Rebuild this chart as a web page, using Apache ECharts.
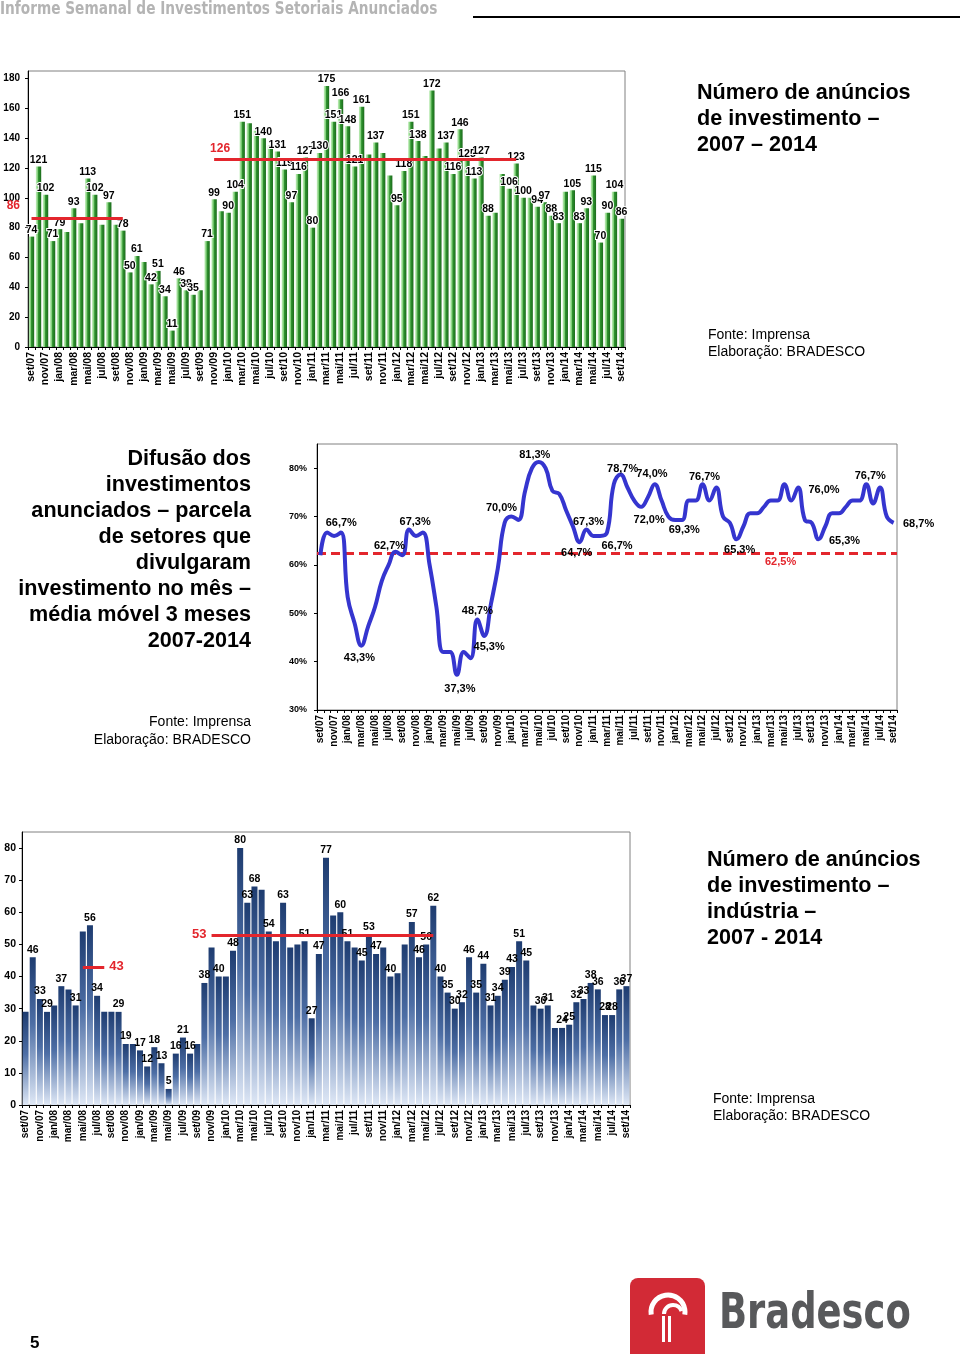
<!DOCTYPE html>
<html><head><meta charset="utf-8">
<script src="https://cdn.jsdelivr.net/npm/echarts@6/dist/echarts.min.js"></script>
<style>html,body{margin:0;padding:0;background:#fff}#c{width:960px;height:1354px}</style>
</head><body><div id="c"></div>
<script>
// ---------- categories ----------
const monthNames = ['jan','fev','mar','abr','mai','jun','jul','ago','set','out','nov','dez'];
const categories = [];
for (let y = 2007, m = 8; y < 2014 || (y === 2014 && m <= 8);) {
  categories.push(monthNames[m] + '/' + String(y).slice(2));
  m++; if (m === 12) { m = 0; y++; }
}

// ---------- chart 1: número de anúncios de investimento ----------
const totalAnnouncements = [74,121,102,71,79,77,93,83,113,102,82,97,82,78,50,61,57,42,51,34,11,46,38,35,38,71,99,91,90,104,151,150,145,140,135,131,119,97,116,127,80,130,175,151,166,148,121,161,129,137,130,115,95,118,151,138,128,172,133,137,116,146,125,113,127,88,90,116,106,123,100,100,94,97,88,83,104,105,83,93,115,70,90,104,86];
const totalUnlabeled = [5,7,10,12,16,24,27,31,32,34,48,50,51,56,58,66,67,71,76];
const totalAverages = [86, 126];
const totalAverageSpans = [['set/07','out/08'], ['nov/09','jun/13']];
const totalTicks = [0,20,40,60,80,100,120,140,160,180];

// ---------- chart 2: difusão (média móvel 3 meses, %) ----------
const diffusion = [62.0,66.7,66.0,66.7,53.3,48.0,43.3,47.3,51.3,56.7,60.0,62.7,62.0,67.3,66.0,66.7,60.0,51.3,42.0,42.0,37.3,42.0,40.7,48.7,45.3,52.0,59.3,68.7,70.0,69.3,75.3,80.0,81.3,80.0,75.3,74.7,71.3,68.0,64.7,67.3,66.0,66.0,66.7,76.7,78.7,76.0,73.3,72.0,74.0,76.7,73.3,70.0,69.3,69.3,73.3,73.3,76.7,73.3,76.0,70.0,68.7,65.3,68.0,70.7,70.7,72.0,73.3,73.3,76.7,73.3,76.0,69.3,68.7,65.3,68.0,70.7,70.7,72.0,73.3,73.3,76.7,72.7,76.0,70.0,68.7];
const diffusionLabeled = [1,6,11,13,20,23,24,28,32,38,39,42,44,47,48,52,56,61,70,73,80,84];
const diffusionAverage = 62.5;
const diffusionTicks = [30,40,50,60,70,80];

// ---------- chart 3: indústria ----------
const industry = [29,46,33,29,31,37,36,31,54,56,34,29,29,29,19,19,17,12,18,13,5,16,21,16,19,38,49,40,40,48,80,63,68,67,54,51,63,49,50,51,27,47,77,59,60,51,49,45,53,47,49,40,41,50,57,46,50,62,40,35,30,32,46,35,44,31,34,39,43,51,45,31,30,31,24,24,25,32,33,38,36,28,28,36,37];
const industryUnlabeled = [0,4,6,8,11,12,15,24,26,28,33,35,37,38,43,46,50,52,53,71,74];
const industryAverages = [43, 53];
const industryAverageSpans = [['mai/08','ago/08'], ['nov/09','jun/12']];
const industryTicks = [0,10,20,30,40,50,60,70,80];

// ---------- styles ----------
const FF = '"Liberation Sans", Arial, sans-serif';
const NARROW = '"Liberation Sans Narrow", "DejaVu Sans Condensed", sans-serif';
const RED = '#e3262d';
const fmtPct = v => v.toFixed(1).replace('.', ',') + '%';

// label offsets for the line chart (style only)
const lineLabelOffsets = {1:[14,-10],6:[-2,12],11:[-6,-6],13:[6,-8],20:[3,14],23:[0,-9],24:[5,11],28:[-10,-9],32:[-4,-7],38:[-3,11],39:[2,-8],42:[10,13],44:[2,-6],47:[8,13],48:[4,-23],52:[9,10],56:[2,-7],61:[3,11],70:[26,2],73:[26,2],80:[4,-8],84:[25,1]};

const grids = [
  {left: 28, top: 71, width: 597, height: 276},
  {left: 317, top: 444, width: 580, height: 266},
  {left: 22, top: 832, width: 608, height: 273}
].map(g => Object.assign(g, {show: true, borderColor: '#808080', borderWidth: 1, backgroundColor: 'transparent', containLabel: false}));

function xAxisFor(i, fs) {
  return {
    type: 'category', gridIndex: i, data: categories, boundaryGap: true,
    axisLine: {lineStyle: {color: '#000', width: 1}},
    axisTick: {show: true, interval: 0, length: 3, lineStyle: {color: '#000'}},
    axisLabel: {rotate: 90, interval: 1, fontWeight: 'bold', fontSize: fs, fontFamily: FF, color: '#000', margin: 5}
  };
}
function yAxisFor(i, ticks, maxV, fs, margin, fmt) {
  return {
    type: 'value', gridIndex: i, min: ticks[0], max: maxV, interval: ticks[1] - ticks[0],
    splitLine: {show: false},
    axisLine: {show: true, lineStyle: {color: '#000'}},
    axisTick: {show: true, length: 3, lineStyle: {color: '#000'}},
    axisLabel: {showMaxLabel: false, fontWeight: 'bold', fontSize: fs, fontFamily: FF, color: '#000', margin: margin, formatter: fmt}
  };
}

const greenGrad = new echarts.graphic.LinearGradient(0, 0, 1, 0, [
  {offset: 0, color: '#c6f0c0'}, {offset: 0.35, color: '#7ccc74'},
  {offset: 0.5, color: '#2e922e'}, {offset: 1, color: '#1c6b1c'}]);
const blueGrad = new echarts.graphic.LinearGradient(0, 0, 0, 1, [
  {offset: 0, color: '#1e3c70'}, {offset: 0.45, color: '#4d6ea5'},
  {offset: 1, color: '#dfe8f6'}]);

const redLabel = (show, position, text, size) => ({show: show, position: position, formatter: text, color: RED, fontWeight: 'bold', fontSize: size, fontFamily: FF, distance: 5});

const option = {
  animation: false,
  backgroundColor: '#fff',
  grid: grids,
  xAxis: [xAxisFor(0, 10.5), xAxisFor(1, 10), xAxisFor(2, 10)],
  yAxis: [
    yAxisFor(0, totalTicks, 185, 10, 8),
    yAxisFor(1, diffusionTicks, 85, 9, 10, '{value}%'),
    yAxisFor(2, industryTicks, 85, 10.5, 6)
  ],
  series: [
    {
      type: 'bar', xAxisIndex: 0, yAxisIndex: 0, barCategoryGap: '24%',
      itemStyle: {color: greenGrad},
      data: totalAnnouncements.map((v, i) => ({value: v, label: {show: !totalUnlabeled.includes(i)}})),
      label: {position: 'top', distance: 1, fontWeight: 'bold', fontSize: 10.5, fontFamily: FF, color: '#000', textBorderColor: '#fff', textBorderWidth: 2},
      markLine: {
        silent: true, symbol: 'none', z: 10,
        lineStyle: {color: RED, width: 3, type: 'solid'},
        data: totalAverages.map((v, k) => [
          {coord: [totalAverageSpans[k][0], v], label: Object.assign(redLabel(k === 1, 'insideStartTop', String(v), 12), {distance: [-4, 4]})},
          {coord: [totalAverageSpans[k][1], v]}
        ])
      }
    },
    {
      type: 'line', xAxisIndex: 1, yAxisIndex: 1, smooth: 0.45,
      symbol: 'circle', symbolSize: 1, showAllSymbol: true,
      itemStyle: {color: 'rgba(0,0,0,0)'},
      lineStyle: {color: '#3535cf', width: 4},
      data: diffusion.map((v, i) => {
        const on = diffusionLabeled.includes(i);
        const off = lineLabelOffsets[i] || [0, -10];
        return {value: v, label: {show: on, position: 'inside', offset: off}};
      }),
      label: {fontWeight: 'bold', fontSize: 11, fontFamily: FF, color: '#000', formatter: p => fmtPct(p.value)},
      z: 5,
      markLine: {
        silent: true, symbol: 'none', z: 3,
        lineStyle: {color: RED, width: 3, type: [9, 5]},
        label: {show: false},
        data: [{yAxis: diffusionAverage}]
      }
    },
    {
      type: 'bar', xAxisIndex: 2, yAxisIndex: 2, barCategoryGap: '16%',
      itemStyle: {color: blueGrad},
      data: industry.map((v, i) => ({value: v, label: {show: !industryUnlabeled.includes(i)}})),
      label: {position: 'top', distance: 2, fontWeight: 'bold', fontSize: 10.5, fontFamily: FF, color: '#000'},
      markLine: {
        silent: true, symbol: 'none', z: 10,
        lineStyle: {color: RED, width: 3, type: 'solid'},
        data: [
          [{coord: [industryAverageSpans[0][0], industryAverages[0]]},
           {coord: [industryAverageSpans[0][1], industryAverages[0]], label: redLabel(true, 'end', String(industryAverages[0]), 13)}],
          [{coord: [industryAverageSpans[1][0], industryAverages[1]], label: redLabel(true, 'start', String(industryAverages[1]), 13)},
           {coord: [industryAverageSpans[1][1], industryAverages[1]]}]
        ]
      }
    }
  ]
};

const chart = echarts.init(document.getElementById('c'), null, {renderer: 'canvas'});
chart.setOption(option);

// ---------- texts / decorations ----------
const p86 = chart.convertToPixel({xAxisIndex: 0, yAxisIndex: 0}, [0, totalAverages[0]]);
const p625 = chart.convertToPixel({xAxisIndex: 1, yAxisIndex: 1}, [67, diffusionAverage]);
const T = (x, y, text, font, fill, align, lh, sx) => ({
  type: 'text', x: x, y: y, scaleX: sx || 1, silent: true, z: 100,
  style: {text: text, font: font, fill: fill || '#000', align: align || 'left', verticalAlign: 'top', lineHeight: lh}
});
const titleFont = 'bold 21.6px ' + FF;
const srcFont = '14px ' + FF;

chart.setOption({
  graphic: [
    T(0, 1, 'Informe Semanal de Investimentos Setoriais Anunciados', 'bold 17px ' + NARROW, '#b4b4b4', 'left', null, 0.895),
    {type: 'line', silent: true, shape: {x1: 473, y1: 17, x2: 960, y2: 17}, style: {stroke: '#000', lineWidth: 2}},
    T(697, 80, 'Número de anúncios\nde investimento –\n2007 – 2014', titleFont, '#000', 'left', 26),
    T(708, 327, 'Fonte: Imprensa\nElaboração: BRADESCO', srcFont, '#000', 'left', 17),
    T(20, p86[1] - 19, String(totalAverages[0]), 'bold 12px ' + FF, RED, 'right'),
    T(251, 446, 'Difusão dos\ninvestimentos\nanunciados – parcela\nde setores que\ndivulgaram\ninvestimento no mês –\nmédia móvel 3 meses\n2007-2014', titleFont, '#000', 'right', 26),
    T(251, 713, 'Fonte: Imprensa\nElaboração: BRADESCO', srcFont, '#000', 'right', 18),
    T(p625[0] + 3, p625[1] + 4, fmtPct(diffusionAverage), 'bold 11px ' + FF, RED, 'center'),
    T(707, 847, 'Número de anúncios\nde investimento –\nindústria –\n2007 - 2014', titleFont, '#000', 'left', 26),
    T(713, 1091, 'Fonte: Imprensa\nElaboração: BRADESCO', srcFont, '#000', 'left', 17),
    T(30, 1335, '5', 'bold 17px ' + FF, '#000'),
    {type: 'rect', silent: true, shape: {x: 630, y: 1278, width: 75, height: 90, r: 8}, style: {fill: '#d22a36'}},
    {type: 'arc', silent: true, shape: {cx: 668, cy: 1312, r: 17, startAngle: Math.PI * 0.95, endAngle: Math.PI * 2.05}, style: {stroke: '#fff', fill: null, lineWidth: 5}},
    {type: 'arc', silent: true, shape: {cx: 673, cy: 1314, r: 9, startAngle: Math.PI * 1.0, endAngle: Math.PI * 1.9}, style: {stroke: '#fff', fill: null, lineWidth: 4}},
    {type: 'rect', silent: true, shape: {x: 662, y: 1316, width: 3, height: 26}, style: {fill: '#fff'}},
    {type: 'rect', silent: true, shape: {x: 668, y: 1316, width: 3, height: 26}, style: {fill: '#fff'}},
    T(719, 1290, 'Bradesco', 'bold 50px ' + NARROW, '#58595b', 'left', null, 0.82)
  ]
});
</script>
</body></html>
